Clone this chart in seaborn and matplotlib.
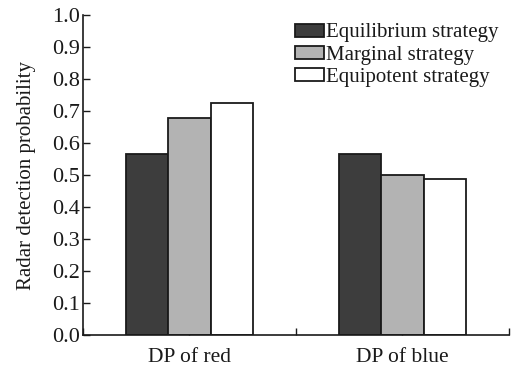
import matplotlib
matplotlib.use("Agg")
import matplotlib.pyplot as plt
import seaborn as sns
import pandas as pd

categories = ["DP of red", "DP of blue"]
strategies = ["Equilibrium strategy", "Marginal strategy", "Equipotent strategy"]
equilibrium = [0.566, 0.566]
marginal = [0.679, 0.500]
equipotent = [0.726, 0.488]
yticks = [0.0, 0.1, 0.2, 0.3, 0.4, 0.5, 0.6, 0.7, 0.8, 0.9, 1.0]

rows = []
for s, vals in zip(strategies, [equilibrium, marginal, equipotent]):
    for c, v in zip(categories, vals):
        rows.append({"cat": c, "strategy": s, "value": v})
df = pd.DataFrame(rows)

sns.set_style("ticks")
plt.rcParams["font.family"] = ["Liberation Serif", "DejaVu Serif"]

fig = plt.figure(figsize=(5.28, 3.69), dpi=100)
ax = fig.add_axes([0.157, 0.092, 0.807, 0.867])

palette = ["#3d3d3d", "#b3b3b3", "#ffffff"]
sns.barplot(data=df, x="cat", y="value", hue="strategy", order=categories,
            hue_order=strategies, palette=palette, width=0.6,
            edgecolor="#1a1a1a", linewidth=1.3, ax=ax, legend=True)

ax.set_xlim(-0.5, 1.5)
ax.set_ylim(0, 1.0)
ax.set_yticks(yticks)
ax.set_yticklabels([f"{t:.1f}" for t in yticks])
ax.set_xticks([-0.5, 0, 0.5, 1, 1.5])
ax.set_xticklabels(["", categories[0], "", categories[1], ""])
ax.tick_params(axis="both", direction="in", length=5, width=1, colors="#1a1a1a",
               labelcolor="#1a1a1a", labelsize=16, pad=2)
ax.tick_params(axis="x", labelsize=15.5, pad=9)
for side in ["top", "right"]:
    ax.spines[side].set_visible(False)
for side in ["left", "bottom"]:
    ax.spines[side].set_linewidth(1.2)
    ax.spines[side].set_color("#1a1a1a")
ax.set_xlabel("")
ax.set_ylabel("Radar detection probability", fontsize=15, color="#1a1a1a", labelpad=12)

handles, labels = ax.get_legend_handles_labels()
ax.legend(handles, labels, loc="upper right", bbox_to_anchor=(0.995, 1.0), frameon=False,
          fontsize=15, handlelength=1.4, handleheight=0.6, handletextpad=0.1,
          labelspacing=0.15, borderaxespad=0.0, labelcolor="#1a1a1a")

fig.savefig("out.png", dpi=100)
